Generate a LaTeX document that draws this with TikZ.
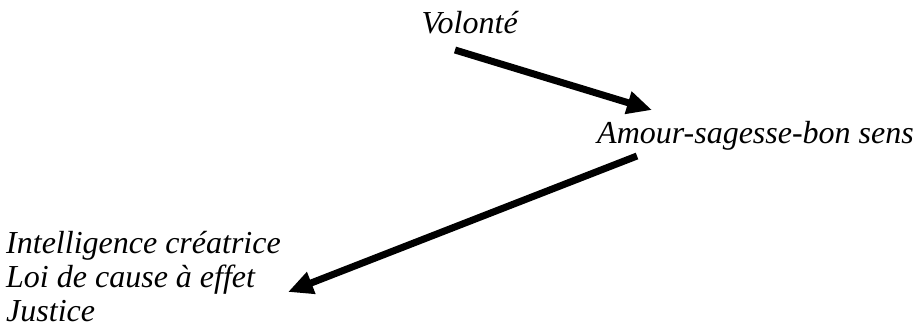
\documentclass[tikz,border=0pt]{standalone}
\usepackage{fontspec}
\setmainfont{Liberation Serif}
\usetikzlibrary{arrows.meta}
\begin{document}
\begin{tikzpicture}[x=1pt,y=-1pt,
  lbl/.style={anchor=base west,inner sep=0pt,font=\fontsize{32}{34}\selectfont\itshape,align=left},
  bigarrow/.style={line width=7pt,-{Triangle[length=25pt,width=22pt]}}]
\useasboundingbox (0,0) rectangle (922,332);
\node[lbl] (vol) at (421.5,33) {Volonté};
\node[lbl] (amour) at (597,143) {Amour-sagesse-bon sens};
\node[lbl] (intel) at (6,321) {Intelligence créatrice\\Loi de cause à effet\\Justice};
\coordinate (a1s) at (455,50);
\coordinate (a1e) at (652,110);
\coordinate (a2s) at (637,156);
\coordinate (a2e) at (288,292);
\draw[bigarrow] (a1s) -- (a1e);
\draw[bigarrow] (a2s) -- (a2e);
\end{tikzpicture}
\end{document}
